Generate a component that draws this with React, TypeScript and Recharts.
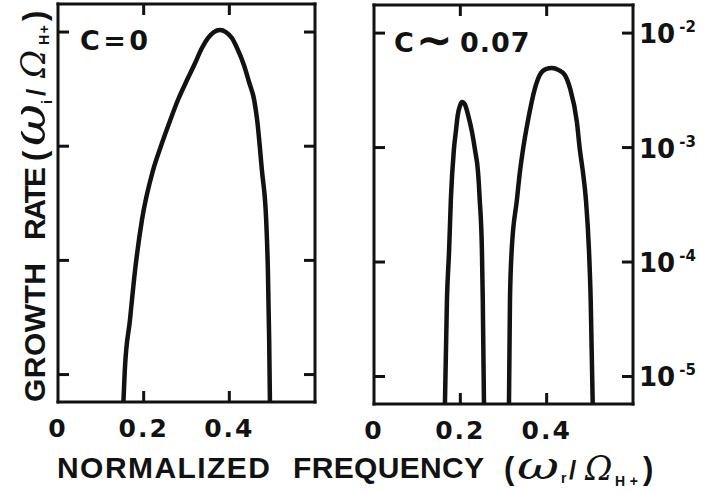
import React from 'react';
import { LineChart, Line, XAxis, YAxis } from 'recharts';

// Axis ranges and ticks
const X_DOMAIN: [number, number] = [0, 0.6];
const Y_DOMAIN: [number, number] = [5.75e-6, 1.76e-2];
const X_TICKS = [0, 0.2, 0.4];
const X_TICK_LABELS = ['0', '0.2', '0.4'];
const Y_TICKS = [1e-5, 1e-4, 1e-3, 1e-2];
const Y_TICK_EXPONENTS = ['-5', '-4', '-3', '-2'];

// C = 0 : single unstable band
const freqC0 = [
  0.152, 0.156, 0.168, 0.18, 0.196, 0.222, 0.241, 0.262, 0.28, 0.299, 0.318, 0.336, 0.35, 0.364,
  0.378, 0.392, 0.406, 0.418, 0.434, 0.446, 0.458, 0.465, 0.476, 0.486, 0.49, 0.493, 0.495,
];
const rateC0 = [
  5e-6, 1.1e-5, 3.01e-5, 8.24e-5, 2.26e-4, 6.18e-4, 1.02e-3, 1.69e-3, 2.54e-3, 3.65e-3, 5.14e-3,
  7.24e-3, 8.85e-3, 1.0e-2, 1.04e-2, 1.0e-2, 8.85e-3, 7.24e-3, 5.14e-3, 3.65e-3, 2.54e-3, 1.69e-3,
  6.18e-4, 2.26e-4, 8.24e-5, 2.01e-5, 5e-6,
];

// C ~ 0.07 : lower band
const freqLowBand = [
  0.164, 0.169, 0.174, 0.178, 0.185, 0.19, 0.194, 0.199, 0.204, 0.211, 0.218, 0.227, 0.234, 0.241,
  0.245, 0.25, 0.252, 0.255,
];
const rateLowBand = [
  5e-6, 4.67e-5, 1.27e-4, 3.48e-4, 9.53e-4, 1.42e-3, 1.92e-3, 2.31e-3, 2.5e-3, 2.36e-3, 1.92e-3,
  1.37e-3, 9.53e-4, 6.11e-4, 3.48e-4, 1.27e-4, 4.67e-5, 5e-6,
];

// C ~ 0.07 : upper band
const freqHighBand = [
  0.3125, 0.315, 0.319, 0.331, 0.338, 0.345, 0.356, 0.373, 0.384, 0.398, 0.412, 0.428, 0.442, 0.454,
  0.47, 0.477, 0.484, 0.491, 0.498, 0.502, 0.507,
];
const rateHighBand = [
  5e-6, 4.67e-5, 1.27e-4, 3.48e-4, 6.11e-4, 9.53e-4, 1.67e-3, 3.31e-3, 4.31e-3, 4.85e-3, 4.95e-3,
  4.75e-3, 4.31e-3, 3.31e-3, 1.67e-3, 9.53e-4, 6.11e-4, 3.48e-4, 1.27e-4, 4.67e-5, 5e-6,
];

const zip = (fs: number[], gs: number[]) => fs.map((f, i) => ({ f, g: gs[i] }));

const CHART_H = 493;
const INK = '#121212';
const TICK_LEN = 11;
const TICK_W = 3;
const SANS = '"Liberation Sans", Arial, sans-serif';
const WIDE = '"DejaVu Sans", sans-serif';
const SERIF = '"DejaVu Serif", serif';

const frameLine = { stroke: INK, strokeWidth: 3, strokeLinecap: 'square' as const };

// Bottom axis tick: inward marks on both the bottom and the top edge of the box, label below.
const makeBottomTick = (plotHeight: number) => (props: any) => {
  const { x, y, payload } = props;
  const label = X_TICK_LABELS[X_TICKS.indexOf(payload.value)];
  const top = y - plotHeight;
  return (
    <g>
      {payload.value !== 0 && (
        <g>
          <line x1={x} x2={x} y1={y} y2={y - TICK_LEN} stroke={INK} strokeWidth={TICK_W} />
          <line x1={x} x2={x} y1={top} y2={top + TICK_LEN} stroke={INK} strokeWidth={TICK_W} />
        </g>
      )}
      <text
        x={x}
        y={y + 35}
        textAnchor="middle"
        fontFamily={WIDE}
        fontWeight="bold"
        fontSize={25}
        letterSpacing={2}
        fill={INK}
      >
        {label}
      </text>
    </g>
  );
};

const LeftTick = (props: any) => {
  const { x, y } = props;
  return <line x1={x} x2={x + TICK_LEN} y1={y} y2={y} stroke={INK} strokeWidth={TICK_W} />;
};

const makeRightTick = (withLabel: boolean) => (props: any) => {
  const { x, y, payload } = props;
  const exp = Y_TICK_EXPONENTS[Y_TICKS.indexOf(payload.value)];
  return (
    <g>
      <line x1={x} x2={x - TICK_LEN} y1={y} y2={y} stroke={INK} strokeWidth={TICK_W} />
      {withLabel && (
        <text x={x + 6} y={y + 10} fontFamily={WIDE} fontWeight="bold" fontSize={26} fill={INK}>
          10
          <tspan dx={4} dy={-11} fontSize={15}>
            {exp}
          </tspan>
        </text>
      )}
    </g>
  );
};

type PanelProps = {
  width: number;
  margin: { top: number; right: number; bottom: number; left: number };
  series: { f: number; g: number }[][];
  rightLabels: boolean;
};

// Each panel is a boxed log-linear plot; the four axes form the frame, ticks point inward.
const Panel = ({ width, margin, series, rightLabels }: PanelProps) => {
  const plotHeight = CHART_H - margin.top - margin.bottom - 2;
  return (
    <LineChart width={width} height={CHART_H} margin={margin}>
      <XAxis
        xAxisId="b"
        dataKey="f"
        type="number"
        domain={X_DOMAIN}
        ticks={X_TICKS}
        interval={0}
        height={1}
        tickSize={0}
        tickMargin={0}
        tickLine={false}
        axisLine={frameLine}
        tick={makeBottomTick(plotHeight)}
        allowDataOverflow
      />
      <XAxis
        xAxisId="t"
        dataKey="f"
        orientation="top"
        type="number"
        domain={X_DOMAIN}
        ticks={X_TICKS}
        height={1}
        tickLine={false}
        axisLine={frameLine}
        tick={false}
        allowDataOverflow
      />
      <YAxis
        yAxisId="l"
        type="number"
        scale="log"
        domain={Y_DOMAIN}
        ticks={Y_TICKS}
        interval={0}
        width={1}
        tickSize={0}
        tickMargin={0}
        tickLine={false}
        axisLine={frameLine}
        tick={LeftTick}
        allowDataOverflow
      />
      <YAxis
        yAxisId="r"
        orientation="right"
        type="number"
        scale="log"
        domain={Y_DOMAIN}
        ticks={Y_TICKS}
        interval={0}
        width={1}
        tickSize={0}
        tickMargin={0}
        tickLine={false}
        axisLine={frameLine}
        tick={makeRightTick(rightLabels)}
        allowDataOverflow
      />
      {series.map((d, i) => (
        <Line
          key={i}
          xAxisId="b"
          yAxisId="l"
          data={d}
          dataKey="g"
          type="monotone"
          stroke={INK}
          strokeWidth={4.5}
          dot={false}
          activeDot={false}
          isAnimationActive={false}
        />
      ))}
    </LineChart>
  );
};

export default function App() {
  return (
    <div
      style={{
        position: 'absolute',
        left: 0,
        top: 0,
        width: 716,
        height: 493,
        background: '#fff',
        overflow: 'hidden',
      }}
    >
      <div style={{ position: 'absolute', left: 0, top: 0 }}>
        <Panel
          width={340}
          margin={{ top: 3, left: 57, right: 24, bottom: 90 }}
          series={[zip(freqC0, rateC0)]}
          rightLabels={false}
        />
      </div>
      <div style={{ position: 'absolute', left: 340, top: 0 }}>
        <Panel
          width={376}
          margin={{ top: 4, left: 33, right: 82, bottom: 88 }}
          series={[zip(freqLowBand, rateLowBand), zip(freqHighBand, rateHighBand)]}
          rightLabels
        />
      </div>
      <svg
        width={716}
        height={493}
        style={{ position: 'absolute', left: 0, top: 0, pointerEvents: 'none' }}
      >
        <g fill={INK}>
          {/* panel captions */}
          <text x={80} y={50} fontFamily={WIDE} fontWeight="bold" fontSize={27} textLength={68}>
            C=0
          </text>
          <text y={52} fontFamily={WIDE} fontWeight="bold" fontSize={27}>
            <tspan x={394}>C</tspan>
            <tspan x={416} y={55} fontSize={44}>
              ∼
            </tspan>
            <tspan x={460} y={52} letterSpacing={1}>
              0.07
            </tspan>
          </text>

          {/* horizontal axis title */}
          <text x={57} y={478} fontFamily={SANS} fontWeight="bold" fontSize={30} textLength={213}>
            NORMALIZED
          </text>
          <text x={293} y={478} fontFamily={SANS} fontWeight="bold" fontSize={30} textLength={191}>
            FREQUENCY
          </text>
          <text x={504} y={479} fontFamily={SANS} fontWeight="bold" fontSize={31}>
            (
          </text>
          <text
            x={517}
            y={479}
            fontFamily={SERIF}
            fontStyle="italic"
            fontSize={40}
            textLength={42}
            lengthAdjust="spacingAndGlyphs"
          >
            ω
          </text>
          <text x={561} y={483} fontFamily={SANS} fontWeight="bold" fontSize={14}>
            r
          </text>
          <text x={569} y={479} fontFamily={SANS} fontWeight="bold" fontSize={26}>
            /
          </text>
          <text x={585} y={480} fontFamily={SERIF} fontStyle="italic" fontSize={33}>
            Ω
          </text>
          <text x={615} y={486} fontFamily={SANS} fontWeight="bold" fontSize={14} textLength={23}>
            H+
          </text>
          <text x={643} y={479} fontFamily={SANS} fontWeight="bold" fontSize={31}>
            )
          </text>

          {/* vertical axis title, read bottom to top */}
          <g transform="translate(45,402) rotate(-90)">
            <text x={0} y={0} fontFamily={SANS} fontWeight="bold" fontSize={30} textLength={139}>
              GROWTH
            </text>
            <text x={162} y={0} fontFamily={SANS} fontWeight="bold" fontSize={30} textLength={73}>
              RATE
            </text>
            <text x={241} y={0} fontFamily={SANS} fontWeight="bold" fontSize={31}>
              (
            </text>
            <text
              x={256}
              y={0}
              fontFamily={SERIF}
              fontStyle="italic"
              fontSize={46}
              textLength={42}
              lengthAdjust="spacingAndGlyphs"
            >
              ω
            </text>
            <text x={298} y={7} fontFamily={SANS} fontWeight="bold" fontSize={14}>
              i
            </text>
            <text x={306} y={0} fontFamily={SANS} fontWeight="bold" fontSize={26}>
              /
            </text>
            <text x={324} y={0} fontFamily={SERIF} fontStyle="italic" fontSize={34}>
              Ω
            </text>
            <text x={357} y={4} fontFamily={SANS} fontWeight="bold" fontSize={14} textLength={20}>
              H+
            </text>
            <text x={381} y={0} fontFamily={SANS} fontWeight="bold" fontSize={31}>
              )
            </text>
          </g>
        </g>
      </svg>
    </div>
  );
}
